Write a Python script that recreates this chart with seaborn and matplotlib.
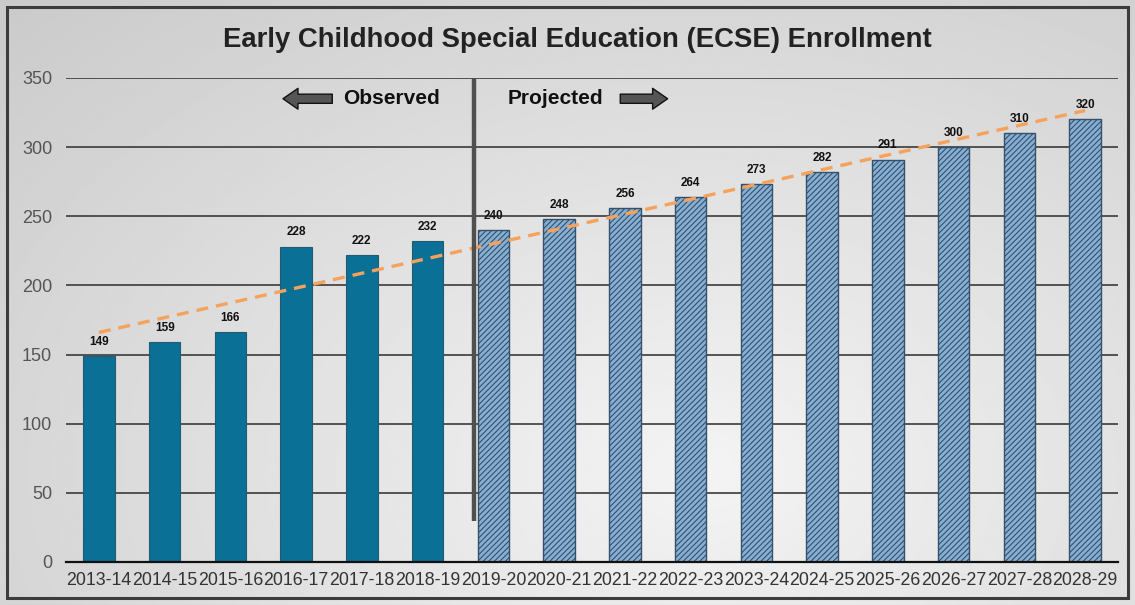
import numpy as np
import matplotlib
matplotlib.use("Agg")
import matplotlib.pyplot as plt
from matplotlib.patches import Rectangle
import seaborn as sns

# ---- data ----
years = ["2013-14", "2014-15", "2015-16", "2016-17", "2017-18", "2018-19",
         "2019-20", "2020-21", "2021-22", "2022-23", "2023-24", "2024-25",
         "2025-26", "2026-27", "2027-28", "2028-29"]
enrollment = [149, 159, 166, 228, 222, 232, 240, 248, 256, 264, 273, 282,
              291, 300, 310, 320]
status = ["Observed"] * 6 + ["Projected"] * 10
title = "Early Childhood Special Education (ECSE) Enrollment"
yticks = [0, 50, 100, 150, 200, 250, 300, 350]

sns.set_style("white")
plt.rcParams["font.family"] = ["Liberation Sans", "DejaVu Sans"]
plt.rcParams["hatch.linewidth"] = 0.8

W, H = 1135, 605
fig = plt.figure(figsize=(W / 100, H / 100), dpi=100)

# background gradient
bg = fig.add_axes([0, 0, 1, 1], zorder=-10)
yy, xx = np.mgrid[0:1:300j, 0:1:600j]
d = np.sqrt(((xx - 0.62) / 0.75) ** 2 + ((yy - 0.78) / 0.95) ** 2)
val = 0.955 - 0.14 * np.clip(d, 0, 1.2)
bg.imshow(val, cmap="gray", vmin=0, vmax=1, aspect="auto", extent=[0, 1, 0, 1],
          interpolation="bilinear")
bg.set_xlim(0, 1)
bg.set_ylim(0, 1)
bg.axis("off")

fig.patches.append(Rectangle((7 / W, 7 / H), 1121 / W, 591 / H, transform=fig.transFigure,
                             fill=False, ec="#3c3c3c", lw=2.2, zorder=5))

ax = fig.add_axes([66 / W, 1 - 562 / H, (1118 - 66) / W, (562 - 78) / H])
ax.set_facecolor("none")

sns.barplot(x=years, y=enrollment, hue=status, dodge=False, width=0.48,
            palette={"Observed": "#0b7096", "Projected": "#86afd3"},
            saturation=1, legend=False, ax=ax, zorder=3)

for cont, lab in zip(ax.containers, ["Observed", "Projected"]):
    for p in cont:
        if lab == "Projected":
            p.set_hatch("//////")
            p.set_edgecolor("#34506a")
            p.set_linewidth(1.0)
        else:
            p.set_edgecolor("#245a70")
            p.set_linewidth(0.8)
    ax.bar_label(cont, fmt="%d", padding=6, fontsize=8.5, fontweight="bold",
                 color="#111111", zorder=6)

# trend line
sns.regplot(x=np.arange(len(enrollment)), y=enrollment, scatter=False, ci=None,
            ax=ax, truncate=True,
            line_kws=dict(color="#f4a25c", lw=2.4, ls=(0, (3.6, 2.4)), zorder=7))

# divider
ax.plot([5.705, 5.705], [30, 350], color="#505050", lw=3.2, zorder=8,
        solid_capstyle="butt")

# arrows and labels
astyle = "simple,head_width=1.25,head_length=0.9,tail_width=0.55"
ax.annotate("", xy=(2.80, 335), xytext=(3.55, 335),
            arrowprops=dict(arrowstyle=astyle, fc="#555555", ec="#111111", lw=1,
                            mutation_scale=12, shrinkA=0, shrinkB=0), zorder=9)
ax.text(3.71, 335, "Observed", fontsize=15, fontweight="bold", color="#111111",
        va="center", ha="left", zorder=9)
ax.text(7.67, 335, "Projected", fontsize=15, fontweight="bold", color="#111111",
        va="center", ha="right", zorder=9)
ax.annotate("", xy=(8.65, 335), xytext=(7.93, 335),
            arrowprops=dict(arrowstyle=astyle, fc="#555555", ec="#111111", lw=1,
                            mutation_scale=12, shrinkA=0, shrinkB=0), zorder=9)

ax.set_xlim(-0.5, len(years) - 0.5)
ax.set_ylim(0, 350)
ax.set_yticks(yticks)
ax.yaxis.grid(True, color="#3a3a3a", lw=1.2, zorder=0)
ax.set_axisbelow(True)
for s in ["top", "left", "right"]:
    ax.spines[s].set_visible(False)
ax.spines["bottom"].set_color("#111111")
ax.spines["bottom"].set_linewidth(1.6)
ax.spines["bottom"].set_zorder(10)
ax.set_xlabel("")
ax.set_ylabel("")
ax.tick_params(axis="y", length=0, pad=10, labelsize=13, labelcolor="#555555")
ax.tick_params(axis="x", which="major", length=0, pad=7, labelsize=12.8,
               labelcolor="#333333")
ax.set_xticks(np.arange(-0.5, len(years)), minor=True)
ax.tick_params(axis="x", which="minor", direction="in", length=5, width=1.2,
               color="#111111")

fig.text(577 / W, 1 - 40 / H, title, ha="center", va="center", fontsize=19.8,
         fontweight="bold", color="#222222")

fig.savefig("out.png", dpi=100)
